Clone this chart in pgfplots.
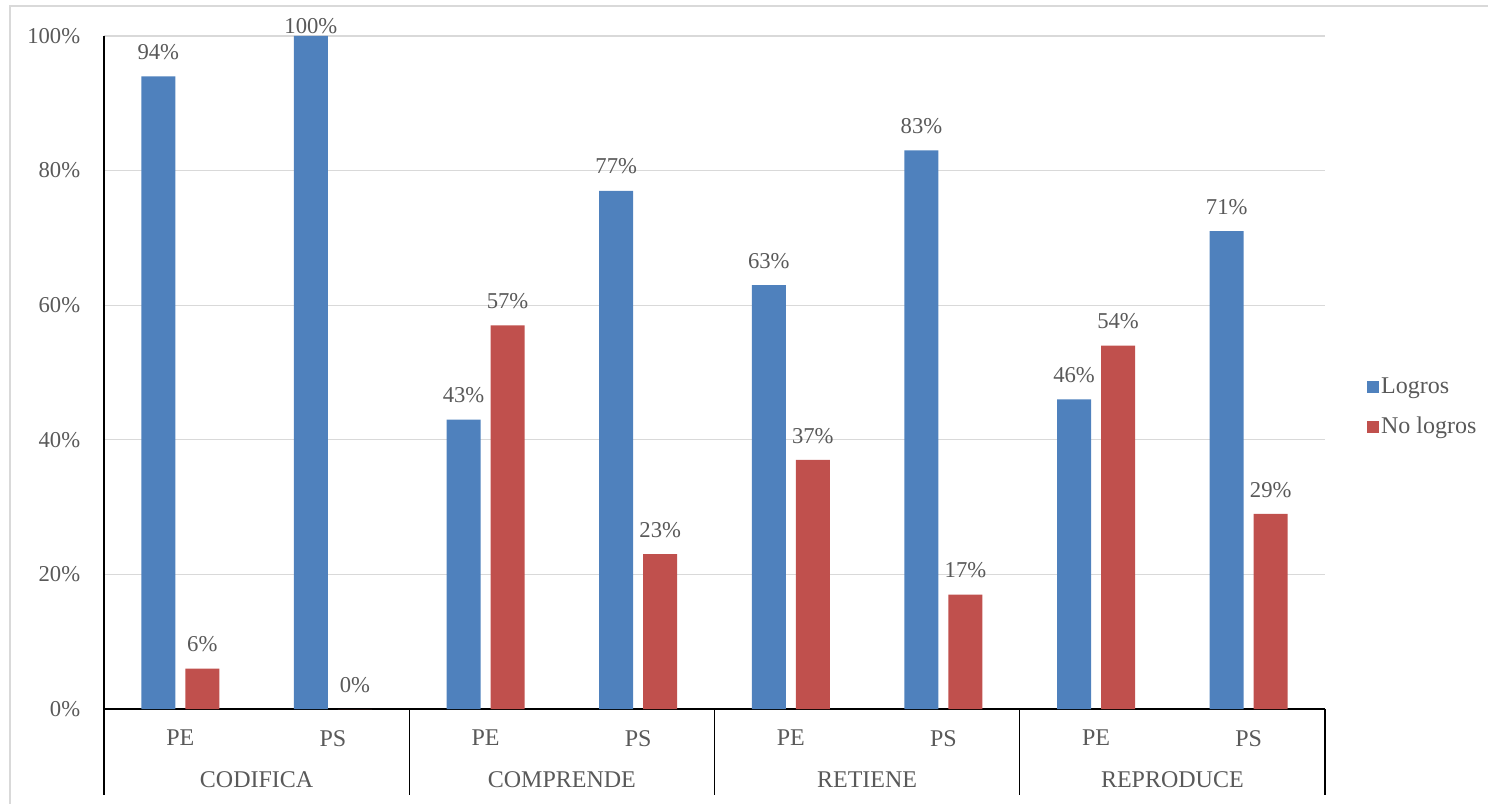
\documentclass[border=0pt]{standalone}
\usepackage{fontspec}
\setmainfont{Liberation Serif}
\usepackage{pgfplots}
\pgfplotsset{compat=1.18}
\definecolor{cblue}{HTML}{4F81BD}
\definecolor{cred}{HTML}{C0504D}
\definecolor{ctext}{HTML}{595959}
\definecolor{cgrid}{HTML}{D9D9D9}
\begin{document}
\begin{tikzpicture}
\fontsize{17}{20.4}\selectfont
\begin{axis}[
  scale only axis,
  width=915.75pt, height=504.75pt,
  ybar=7.5pt, bar width=25.5pt,
  xmin=-0.5, xmax=7.5,
  ymin=0, ymax=100,
  xtick={0,...,7},
  xticklabels={PE,PS,PE,PS,PE,PS,PE,PS},
  ytick={0,20,...,100},
  yticklabel={\pgfmathprintnumber{\tick}\%},
  /pgf/number format/assume math mode=true,
  major tick length=0pt,
  axis x line*=bottom, axis y line*=left,
  axis line style={black, line width=0.9pt, -},
  ymajorgrids, grid style={cgrid, line width=0.9pt},
  tick label style={text=ctext, font=\fontsize{17}{20.4}\selectfont},
  xticklabel style={yshift=-10pt, font=\fontsize{18}{21.6}\selectfont},
  yticklabel style={xshift=-12pt},
  visualization depends on={y \as \rawy},
  nodes near coords={\pgfmathprintnumber{\pgfplotspointmeta}\%},
  nodes near coords style={text=ctext, font=\fontsize{17}{20.4}\selectfont,
    yshift={(\rawy>99)*(-10.5)+6.5}, /pgf/number format/assume math mode=true},
  point meta=y,
  legend style={draw=none, fill=none, at={(1.031,0.448)}, anchor=west,
    font=\fontsize{18}{21.6}\selectfont, text=ctext, row sep=12pt,
    nodes={inner sep=1.5pt}},
  legend cell align=left,
  legend image code/.code={\fill[#1] (0pt,-4.5pt) rectangle (9pt,4.5pt);},
  clip=false,
]
\addplot[fill=cblue, draw=none] coordinates {(0,94) (1,100) (2,43) (3,77) (4,63) (5,83) (6,46) (7,71)};
\addplot[fill=cred, draw=none] coordinates {(0,6) (1,0) (2,57) (3,23) (4,37) (5,17) (6,54) (7,29)};
\legend{Logros, No logros}
\pgfplotsinvokeforeach{-0.5,1.5,3.5,5.5,7.5}{
  \draw[black, line width=0.9pt] (axis cs:#1,0) -- ++(0pt,-64.5pt);
}
\node[text=ctext, font=\fontsize{18}{21.6}\selectfont] at ([yshift=-53.25pt]axis cs:0.5,0) {CODIFICA};
\node[text=ctext, font=\fontsize{18}{21.6}\selectfont] at ([yshift=-53.25pt]axis cs:2.5,0) {COMPRENDE};
\node[text=ctext, font=\fontsize{18}{21.6}\selectfont] at ([yshift=-53.25pt]axis cs:4.5,0) {RETIENE};
\node[text=ctext, font=\fontsize{18}{21.6}\selectfont] at ([yshift=-53.25pt]axis cs:6.5,0) {REPRODUCE};
\end{axis}
\pgfresetboundingbox
\path[use as bounding box] (-78pt,-70.5pt) rectangle (1038pt,531.75pt);
\draw[cgrid, line width=1pt] (-70.5pt,-90pt) -- (-70.5pt,527.25pt) -- (1060pt,527.25pt);
\end{tikzpicture}
\end{document}
